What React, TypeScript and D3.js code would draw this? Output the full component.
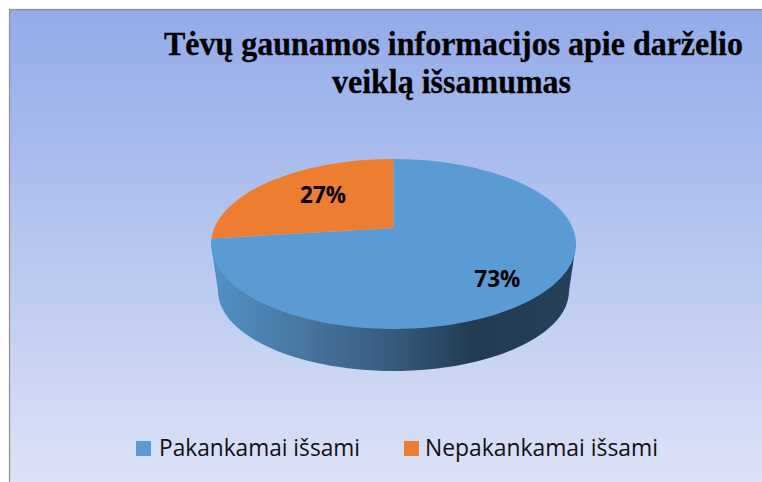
import React from "react";
import * as d3 from "d3";

const categories = ["Pakankamai išsami", "Nepakankamai išsami"];
const values = [73, 27];
const labels = ["73%", "27%"];
const colors = ["#5B9BD5", "#ED7D31"];
const titleLines = ["Tėvų gaunamos informacijos apie darželio", "veiklą išsamumas"];

// Perspective view of the disc
const cx = 393.5;
const R = 179.2;
const c = 0.188;
const a = -39.1;
const b = 228;
const projectR = (th: number, r: number): [number, number] => {
  const u = r * Math.sin(th), v = r * Math.cos(th);
  return [cx + (R * u) / (1 + c * v), (a * v + b) / (1 + c * v)];
};
const project = (th: number) => projectR(th, 1);

const line = d3.line();
const arcs = d3.pie<number>().sort(null)(values);

const wedge = (s: number, e: number) => {
  const n = Math.max(8, Math.round((e - s) * 60));
  const pts: [number, number][] = [[cx, b]];
  d3.range(n + 1).forEach((i) => pts.push(project(s + ((e - s) * i) / n)));
  return line(pts) + "Z";
};

// lower rim of the side wall
const lowCx = 393.5, lowCy = 291, lowRx = 175.5, lowRy = 80;
const sidePath = (() => {
  const pts: [number, number][] = [project(Math.PI * 0.56)];
  d3.range(61).forEach((i) => {
    const t = (Math.PI * i) / 60;
    pts.push([lowCx + lowRx * Math.cos(t), lowCy + lowRy * Math.sin(t)]);
  });
  pts.push(project(Math.PI * 1.44));
  return line(pts) + "Z";
})();

export default function App() {
  return (
    <svg width={762} height={482} style={{ position: "fixed", left: 0, top: 0 }}>
      <defs>
        <linearGradient id="bg" x1="0" y1="0" x2="0" y2="1">
          <stop offset="0" stopColor="#93ABE9" />
          <stop offset="0.5" stopColor="#B8C7F0" />
          <stop offset="1" stopColor="#DDE3F7" />
        </linearGradient>
        <linearGradient id="side" gradientUnits="userSpaceOnUse" x1="212" y1="0" x2="576" y2="0">
          <stop offset="0" stopColor="#5291C8" />
          <stop offset="0.25" stopColor="#47769F" />
          <stop offset="0.5" stopColor="#365A7D" />
          <stop offset="0.72" stopColor="#223B52" />
          <stop offset="1" stopColor="#254059" />
        </linearGradient>
      </defs>
      <rect x={0} y={0} width={762} height={482} fill="#fff" />
      <rect x={9.5} y={9.5} width={760} height={480} fill="url(#bg)" stroke="#8F8F8F" strokeWidth={1.2} />
      <path d={sidePath} fill="url(#side)" />
      {arcs.map((d, i) => (
        <path key={i} d={wedge(d.startAngle, d.endAngle)} fill={colors[i]} />
      ))}
      {titleLines.map((t, i) => (
        <text
          key={t}
          x={i === 0 ? 164 : 332}
          y={55 + i * 38}
          fontFamily="'Liberation Serif', serif"
          fontWeight="bold"
          fontSize={33}
          fill="#000"
          stroke="#000"
          strokeWidth={0.3}
          textLength={i === 0 ? 579 : 239}
          lengthAdjust="spacingAndGlyphs"
        >
          {t}
        </text>
      ))}
      {arcs.map((d, i) => {
        const p = i === 0 ? projectR(2.39, 0.76) : projectR(-0.773, 0.609);
        return (
          <text
            key={labels[i]}
            x={p[0]}
            y={p[1]}
            dy="0.36em"
            textAnchor="middle"
            fontFamily="'Open Sans', sans-serif"
            fontWeight="bold"
            fontSize={23}
            fill="#000"
            textLength={46}
            lengthAdjust="spacingAndGlyphs"
          >
            {labels[i]}
          </text>
        );
      })}
      {categories.map((t, i) => {
        const x0 = [136, 404][i];
        const tx = [159, 425][i];
        return (
          <g key={t}>
            <rect x={x0} y={441} width={15} height={15} fill={colors[i]} />
            <text
              x={tx}
              y={456}
              fontFamily="'Open Sans', sans-serif"
              fontSize={24}
              fill="#111"
              textLength={i === 0 ? 201 : 233}
              lengthAdjust="spacingAndGlyphs"
            >
              {t}
            </text>
          </g>
        );
      })}
    </svg>
  );
}
